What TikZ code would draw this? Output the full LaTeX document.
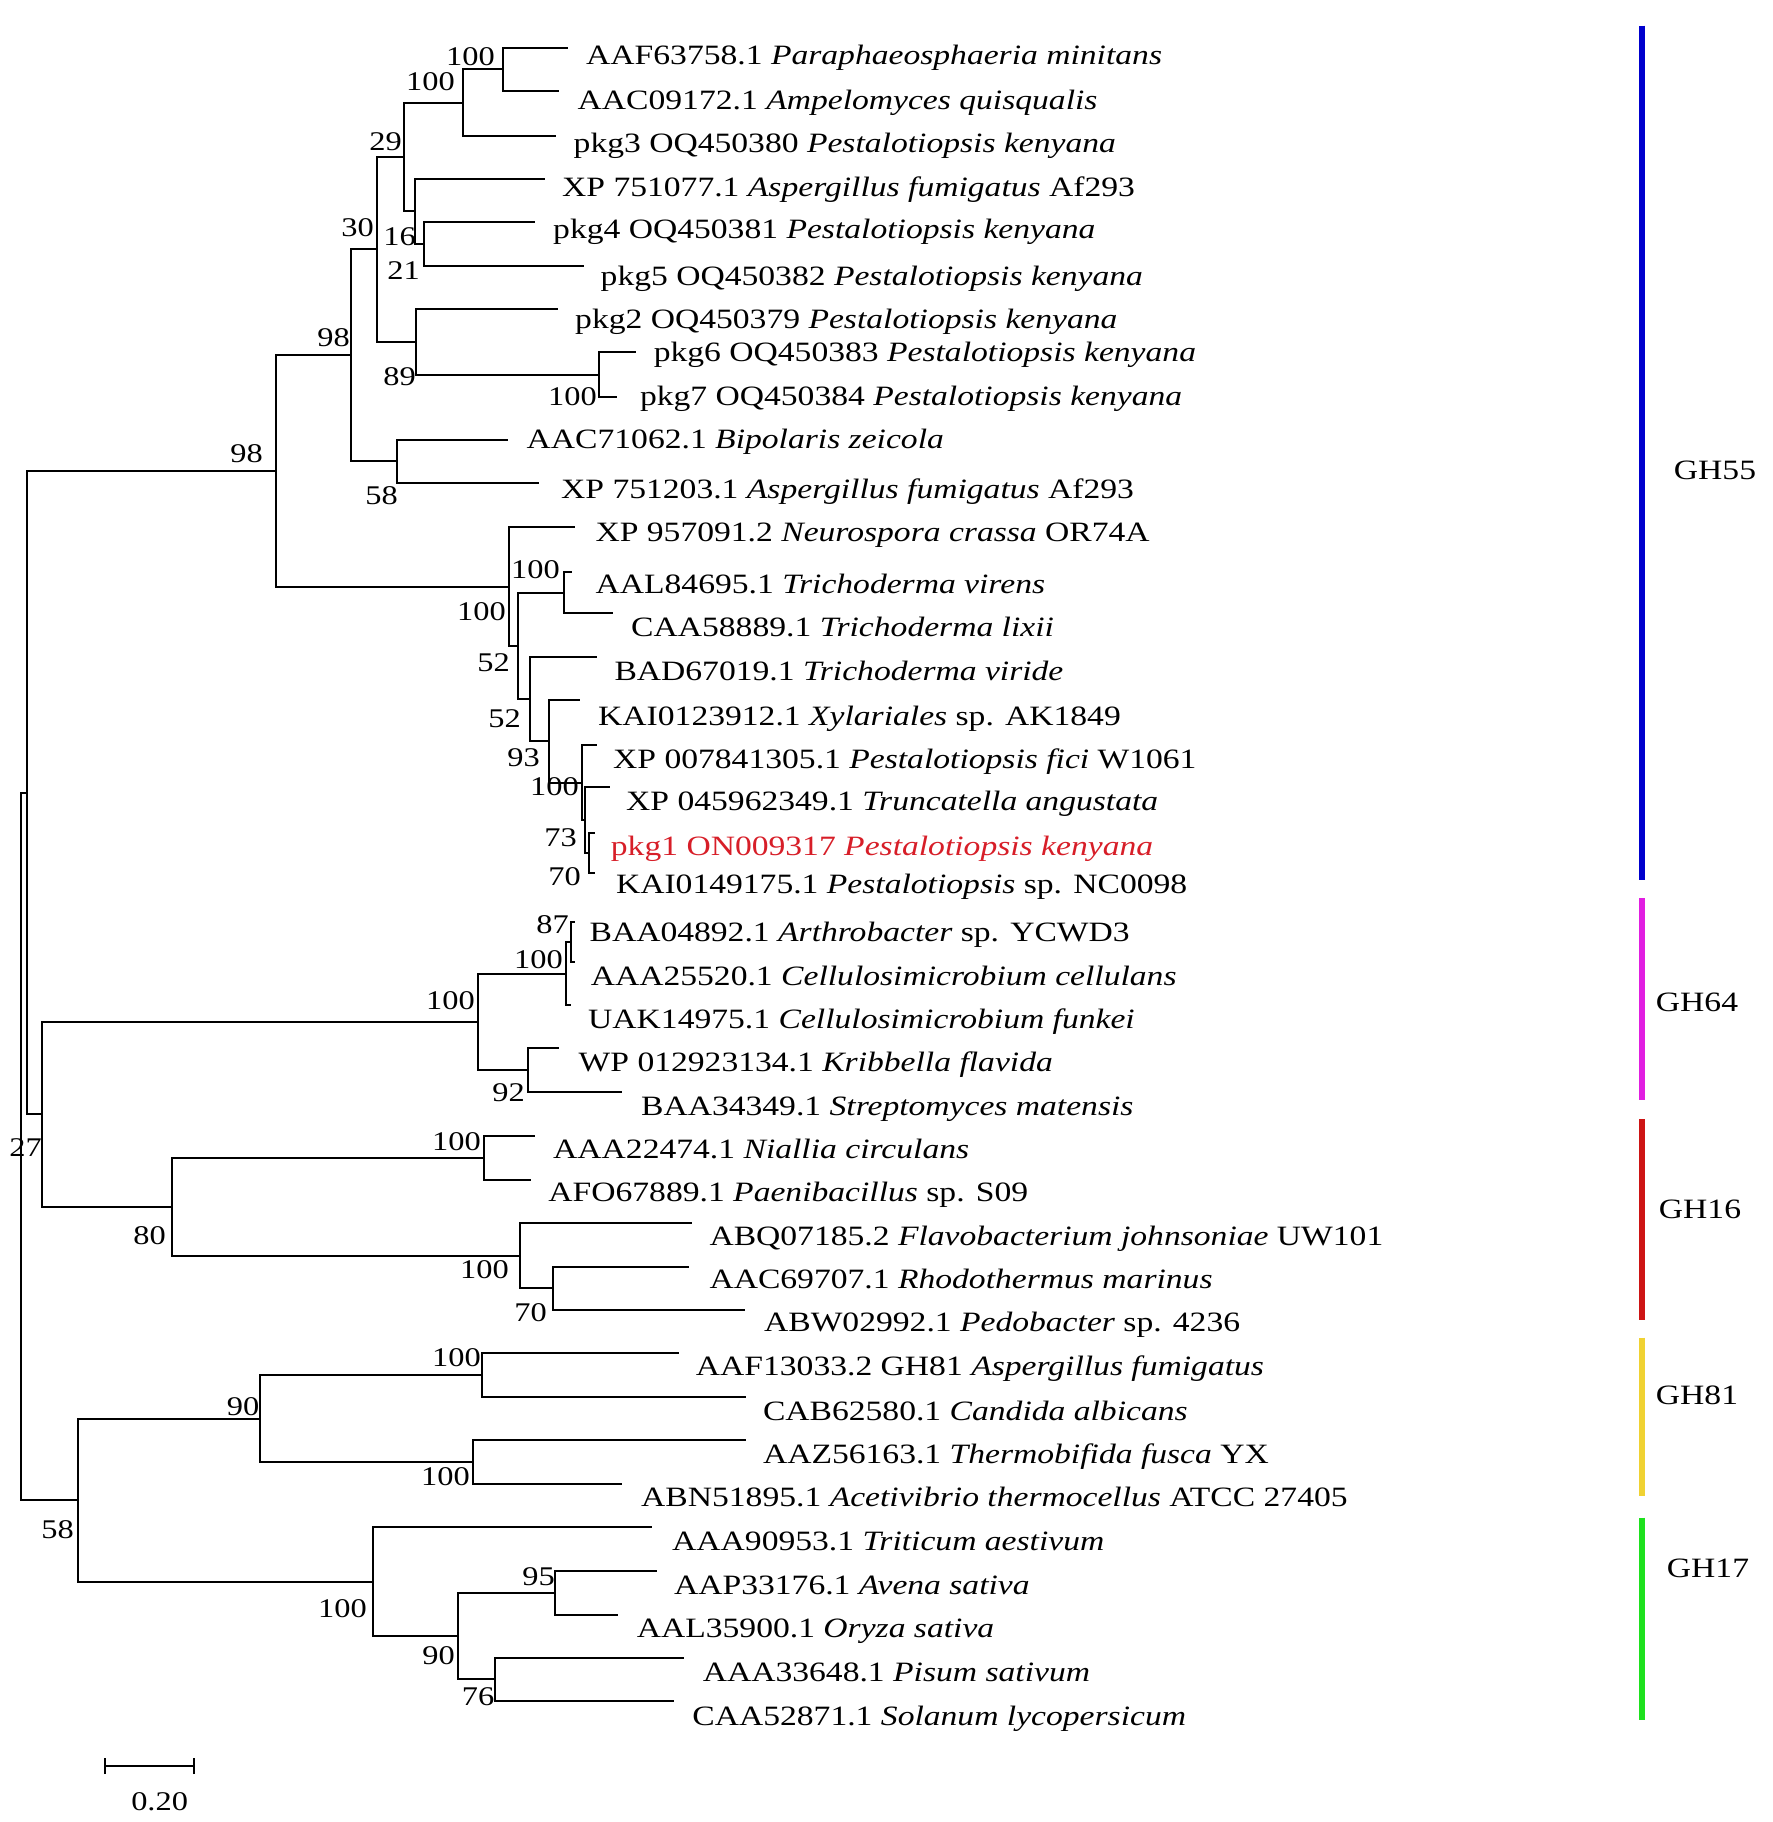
\documentclass[tikz,border=0pt]{standalone}
\usepackage{fontspec}
\setmainfont{Liberation Serif}[FakeStretch=1.2]
\definecolor{gblue}{RGB}{0,0,205}
\definecolor{gmag}{RGB}{225,30,225}
\definecolor{gred}{RGB}{205,20,20}
\definecolor{gyel}{RGB}{240,210,50}
\definecolor{ggreen}{RGB}{30,225,30}
\definecolor{pkgred}{RGB}{215,30,40}
\begin{document}
\begin{tikzpicture}[x=1pt,y=-1pt,
  br/.style={line width=2pt, line join=miter},
  leaf/.style={anchor=base west, inner sep=0pt, font=\fontsize{28}{33}\selectfont},
  bs/.style={anchor=east, inner sep=0pt, font=\fontsize{27}{32}\selectfont},
  bar/.style={line width=6pt},
  grp/.style={inner sep=0pt, font=\fontsize{28}{33}\selectfont}]
\useasboundingbox (0,0) rectangle (1772,1822);
% ---------- leaf tips ----------
\coordinate (l0) at (568.4,48.3);
\coordinate (l1) at (558.7,90.7);
\coordinate (l2) at (556,135.7);
\coordinate (l3) at (545.4,179);
\coordinate (l4) at (535,221.7);
\coordinate (l5) at (583.6,265.7);
\coordinate (l6) at (557.6,309);
\coordinate (l7) at (635.7,352.3);
\coordinate (l8) at (616.8,396.7);
\coordinate (l9) at (507.8,440);
\coordinate (l10) at (538.9,482.7);
\coordinate (l11) at (575,527.3);
\coordinate (l12) at (572.4,571.7);
\coordinate (l13) at (612.6,613.3);
\coordinate (l14) at (597,657.3);
\coordinate (l15) at (579.5,700);
\coordinate (l16) at (597,745);
\coordinate (l17) at (610,786.7);
\coordinate (l18) at (594.8,833.3);
\coordinate (l19) at (594.8,873.3);
\coordinate (l20) at (574.5,922);
\coordinate (l21) at (574.5,962);
\coordinate (l22) at (571,1005);
\coordinate (l23) at (559.3,1048.3);
\coordinate (l24) at (621.6,1091.7);
\coordinate (l25) at (534.8,1136);
\coordinate (l26) at (531.2,1179.5);
\coordinate (l27) at (692.4,1223);
\coordinate (l28) at (689.3,1266.7);
\coordinate (l29) at (745,1310);
\coordinate (l30) at (678.5,1353.3);
\coordinate (l31) at (745.6,1396.7);
\coordinate (l32) at (745.6,1440);
\coordinate (l33) at (622.2,1484);
\coordinate (l34) at (652,1527.3);
\coordinate (l35) at (656.6,1570.7);
\coordinate (l36) at (617.6,1615);
\coordinate (l37) at (683.6,1657.7);
\coordinate (l38) at (673.9,1700.7);
% ---------- internal nodes ----------
\coordinate (A1) at (502.5,69.5);
\coordinate (A2) at (463,102.6);
\coordinate (B2) at (424,243.7);
\coordinate (B1) at (415.2,211.35);
\coordinate (A3) at (403.7,157);
\coordinate (E) at (598.5,374.5);
\coordinate (D) at (416,341.75);
\coordinate (C) at (377,249.4);
\coordinate (H) at (397,461.35);
\coordinate (F) at (351.4,355.4);
\coordinate (P) at (589.4,853.3);
\coordinate (O) at (584.5,820);
\coordinate (N) at (581.5,782.5);
\coordinate (M) at (549,741.25);
\coordinate (L) at (529.7,699.3);
\coordinate (K) at (563.7,592.5);
\coordinate (J) at (518,645.9);
\coordinate (I) at (509,586.6);
\coordinate (G) at (275.8,471);
\coordinate (Q) at (570.5,942);
\coordinate (R) at (565.8,973.5);
\coordinate (T) at (527.7,1070);
\coordinate (S) at (478,1021.75);
\coordinate (W) at (483.7,1157.75);
\coordinate (Y) at (553.4,1288.35);
\coordinate (X) at (520.2,1255.7);
\coordinate (V) at (172,1206.7);
\coordinate (U) at (41.5,1114.2);
\coordinate (Gp) at (27,792.6);
\coordinate (Z) at (482,1375);
\coordinate (AA) at (473.2,1462);
\coordinate (N90) at (260.3,1418.5);
\coordinate (N95) at (554.5,1592.85);
\coordinate (N76) at (495,1679.2);
\coordinate (N90b) at (457.6,1636);
\coordinate (N100) at (372.7,1581.65);
\coordinate (N58) at (78.1,1500);
\coordinate (Root) at (20.5,1146.3);
% ---------- branches ----------
\draw[br] (A1) |- (l0);  \draw[br] (A1) |- (l1);
\draw[br] (A2) |- (A1);  \draw[br] (A2) |- (l2);
\draw[br] (B2) |- (l4);  \draw[br] (B2) |- (l5);
\draw[br] (B1) |- (l3);  \draw[br] (B1) |- (B2);
\draw[br] (A3) |- (A2);  \draw[br] (A3) |- (B1);
\draw[br] (E) |- (l7);   \draw[br] (E) |- (l8);
\draw[br] (D) |- (l6);   \draw[br] (D) |- (E);
\draw[br] (C) |- (A3);   \draw[br] (C) |- (D);
\draw[br] (H) |- (l9);   \draw[br] (H) |- (l10);
\draw[br] (F) |- (C);    \draw[br] (F) |- (H);
\draw[br] (P) |- (l18);  \draw[br] (P) |- (l19);
\draw[br] (O) |- (l17);  \draw[br] (O) |- (P);
\draw[br] (N) |- (l16);  \draw[br] (N) |- (O);
\draw[br] (M) |- (l15);  \draw[br] (M) |- (N);
\draw[br] (L) |- (l14);  \draw[br] (L) |- (M);
\draw[br] (K) |- (l12);  \draw[br] (K) |- (l13);
\draw[br] (J) |- (K);    \draw[br] (J) |- (L);
\draw[br] (I) |- (l11);  \draw[br] (I) |- (J);
\draw[br] (G) |- (F);    \draw[br] (G) |- (I);
\draw[br] (Q) |- (l20);  \draw[br] (Q) |- (l21);
\draw[br] (R) |- (Q);    \draw[br] (R) |- (l22);
\draw[br] (T) |- (l23);  \draw[br] (T) |- (l24);
\draw[br] (S) |- (R);    \draw[br] (S) |- (T);
\draw[br] (W) |- (l25);  \draw[br] (W) |- (l26);
\draw[br] (Y) |- (l28);  \draw[br] (Y) |- (l29);
\draw[br] (X) |- (l27);  \draw[br] (X) |- (Y);
\draw[br] (V) |- (W);    \draw[br] (V) |- (X);
\draw[br] (U) |- (S);    \draw[br] (U) |- (V);
\draw[br] (Gp) |- (G);   \draw[br] (Gp) |- (U);
\draw[br] (Z) |- (l30);  \draw[br] (Z) |- (l31);
\draw[br] (AA) |- (l32); \draw[br] (AA) |- (l33);
\draw[br] (N90) |- (Z);  \draw[br] (N90) |- (AA);
\draw[br] (N95) |- (l35); \draw[br] (N95) |- (l36);
\draw[br] (N76) |- (l37); \draw[br] (N76) |- (l38);
\draw[br] (N90b) |- (N95); \draw[br] (N90b) |- (N76);
\draw[br] (N100) |- (l34); \draw[br] (N100) |- (N90b);
\draw[br] (N58) |- (N90); \draw[br] (N58) |- (N100);
\draw[br] (Root) |- (Gp); \draw[br] (Root) |- (N58);
% ---------- leaf labels ----------
\node[leaf] (t0) at (586,65) {AAF63758.1 \textit{Paraphaeosphaeria minitans}};
\node[leaf] (t1) at (577.5,109.3) {AAC09172.1 \textit{Ampelomyces quisqualis}};
\node[leaf] (t2) at (573.5,153) {pkg3 OQ450380 \textit{Pestalotiopsis kenyana}};
\node[leaf] (t3) at (562,196.7) {XP 751077.1 \textit{Aspergillus fumigatus} Af293};
\node[leaf] (t4) at (553,238) {pkg4 OQ450381 \textit{Pestalotiopsis kenyana}};
\node[leaf] (t5) at (600.5,285) {pkg5 OQ450382 \textit{Pestalotiopsis kenyana}};
\node[leaf] (t6) at (575,328) {pkg2 OQ450379 \textit{Pestalotiopsis kenyana}};
\node[leaf] (t7) at (653.6,361.7) {pkg6 OQ450383 \textit{Pestalotiopsis kenyana}};
\node[leaf] (t8) at (639.8,405) {pkg7 OQ450384 \textit{Pestalotiopsis kenyana}};
\node[leaf] (t9) at (526.5,448.3) {AAC71062.1 \textit{Bipolaris zeicola}};
\node[leaf] (t10) at (561,498.3) {XP 751203.1 \textit{Aspergillus fumigatus} Af293};
\node[leaf] (t11) at (595.4,541.7) {XP 957091.2 \textit{Neurospora crassa} OR74A};
\node[leaf] (t12) at (595.4,593) {AAL84695.1 \textit{Trichoderma virens}};
\node[leaf] (t13) at (631,636.7) {CAA58889.1 \textit{Trichoderma lixii}};
\node[leaf] (t14) at (614.3,680) {BAD67019.1 \textit{Trichoderma viride}};
\node[leaf] (t15) at (598,725) {KAI0123912.1 \textit{Xylariales} sp. AK1849};
\node[leaf] (t16) at (613,768.3) {XP 007841305.1 \textit{Pestalotiopsis fici} W1061};
\node[leaf] (t17) at (626,810) {XP 045962349.1 \textit{Truncatella angustata}};
\node[leaf, text=pkgred] (t18) at (610.7,855) {pkg1 ON009317 \textit{Pestalotiopsis kenyana}};
\node[leaf] (t19) at (615.8,893.3) {KAI0149175.1 \textit{Pestalotiopsis} sp. NC0098};
\node[leaf] (t20) at (589.4,941.7) {BAA04892.1 \textit{Arthrobacter} sp. YCWD3};
\node[leaf] (t21) at (590.6,985) {AAA25520.1 \textit{Cellulosimicrobium cellulans}};
\node[leaf] (t22) at (588,1028.3) {UAK14975.1 \textit{Cellulosimicrobium funkei}};
\node[leaf] (t23) at (578.5,1071.7) {WP 012923134.1 \textit{Kribbella flavida}};
\node[leaf] (t24) at (640.9,1115) {BAA34349.1 \textit{Streptomyces matensis}};
\node[leaf] (t25) at (553,1158.3) {AAA22474.1 \textit{Niallia circulans}};
\node[leaf] (t26) at (548.2,1201.7) {AFO67889.1 \textit{Paenibacillus} sp. S09};
\node[leaf] (t27) at (709.3,1245) {ABQ07185.2 \textit{Flavobacterium johnsoniae} UW101};
\node[leaf] (t28) at (709.3,1288.3) {AAC69707.1 \textit{Rhodothermus marinus}};
\node[leaf] (t29) at (763.9,1331.7) {ABW02992.1 \textit{Pedobacter} sp. 4236};
\node[leaf] (t30) at (695.7,1375) {AAF13033.2 GH81 \textit{Aspergillus fumigatus}};
\node[leaf] (t31) at (762.8,1420) {CAB62580.1 \textit{Candida albicans}};
\node[leaf] (t32) at (762.8,1463.3) {AAZ56163.1 \textit{Thermobifida fusca} YX};
\node[leaf] (t33) at (641,1506.7) {ABN51895.1 \textit{Acetivibrio thermocellus} ATCC 27405};
\node[leaf] (t34) at (672,1550) {AAA90953.1 \textit{Triticum aestivum}};
\node[leaf] (t35) at (673.9,1594) {AAP33176.1 \textit{Avena sativa}};
\node[leaf] (t36) at (636.6,1637.3) {AAL35900.1 \textit{Oryza sativa}};
\node[leaf] (t37) at (702.6,1681.7) {AAA33648.1 \textit{Pisum sativum}};
\node[leaf] (t38) at (692.2,1725) {CAA52871.1 \textit{Solanum lycopersicum}};
% ---------- bootstrap values ----------
\node[bs] (bA1) at (495,57) {100};
\node[bs] (bA2) at (455,82) {100};
\node[bs] (bA3) at (402,142) {29};
\node[bs] (bB1) at (416,237) {16};
\node[bs] (bB2) at (420,271) {21};
\node[bs] (bC) at (374,227.5) {30};
\node[bs] (bD) at (416,377) {89};
\node[bs] (bF) at (350,338) {98};
\node[bs] (bE) at (597,397) {100};
\node[bs] (bG) at (263,454) {98};
\node[bs] (bH) at (398,496) {58};
\node[bs] (bI) at (506,612) {100};
\node[bs] (bK) at (560,570) {100};
\node[bs] (bJ) at (510,663) {52};
\node[bs] (bL) at (521,719) {52};
\node[bs] (bM) at (540,758) {93};
\node[bs] (bN) at (579,787) {100};
\node[bs] (bO) at (577,838) {73};
\node[bs] (bP) at (581,877) {70};
\node[bs] (bQ) at (569,925) {87};
\node[bs] (bR) at (563,960) {100};
\node[bs] (bS) at (475,1000.7) {100};
\node[bs] (bT) at (525,1093) {92};
\node[bs] (bU) at (42,1148) {27};
\node[bs] (bV) at (166,1236) {80};
\node[bs] (bW) at (481,1142) {100};
\node[bs] (bX) at (509,1270) {100};
\node[bs] (bY) at (547,1313) {70};
\node[bs] (bZ) at (481,1358) {100};
\node[bs] (b90) at (259.5,1407) {90};
\node[bs] (bAA) at (470,1477) {100};
\node[bs] (b58) at (74,1530) {58};
\node[bs] (b100) at (367,1609) {100};
\node[bs] (b90b) at (455,1656) {90};
\node[bs] (b95) at (555,1577) {95};
\node[bs] (b76) at (494.5,1697) {76};
% ---------- scale bar ----------
\coordinate (s1) at (105,1766);
\coordinate (s2) at (194.2,1766);
\draw[br] (s1) -- (s2);
\draw[br] ([yshift=-8pt]s1) -- ([yshift=8pt]s1);
\draw[br] ([yshift=-8pt]s2) -- ([yshift=8pt]s2);
\node[bs, anchor=center] (sl) at (159.6,1801.7) {0.20};
% ---------- group bars ----------
\coordinate (g55a) at (1642,25.6);   \coordinate (g55b) at (1642,879.6);
\coordinate (g64a) at (1642,898);    \coordinate (g64b) at (1642,1100);
\coordinate (g16a) at (1642,1119);   \coordinate (g16b) at (1642,1320);
\coordinate (g81a) at (1642,1337.5); \coordinate (g81b) at (1642,1495.5);
\coordinate (g17a) at (1642,1517.6); \coordinate (g17b) at (1642,1720);
\draw[bar, gblue] (g55a) -- (g55b);
\draw[bar, gmag] (g64a) -- (g64b);
\draw[bar, gred] (g16a) -- (g16b);
\draw[bar, gyel] (g81a) -- (g81b);
\draw[bar, ggreen] (g17a) -- (g17b);
\node[grp] (n55) at (1715,470) {GH55};
\node[grp] (n64) at (1697,1002) {GH64};
\node[grp] (n16) at (1700,1209) {GH16};
\node[grp] (n81) at (1697,1395) {GH81};
\node[grp] (n17) at (1708,1568) {GH17};
\end{tikzpicture}
\end{document}
